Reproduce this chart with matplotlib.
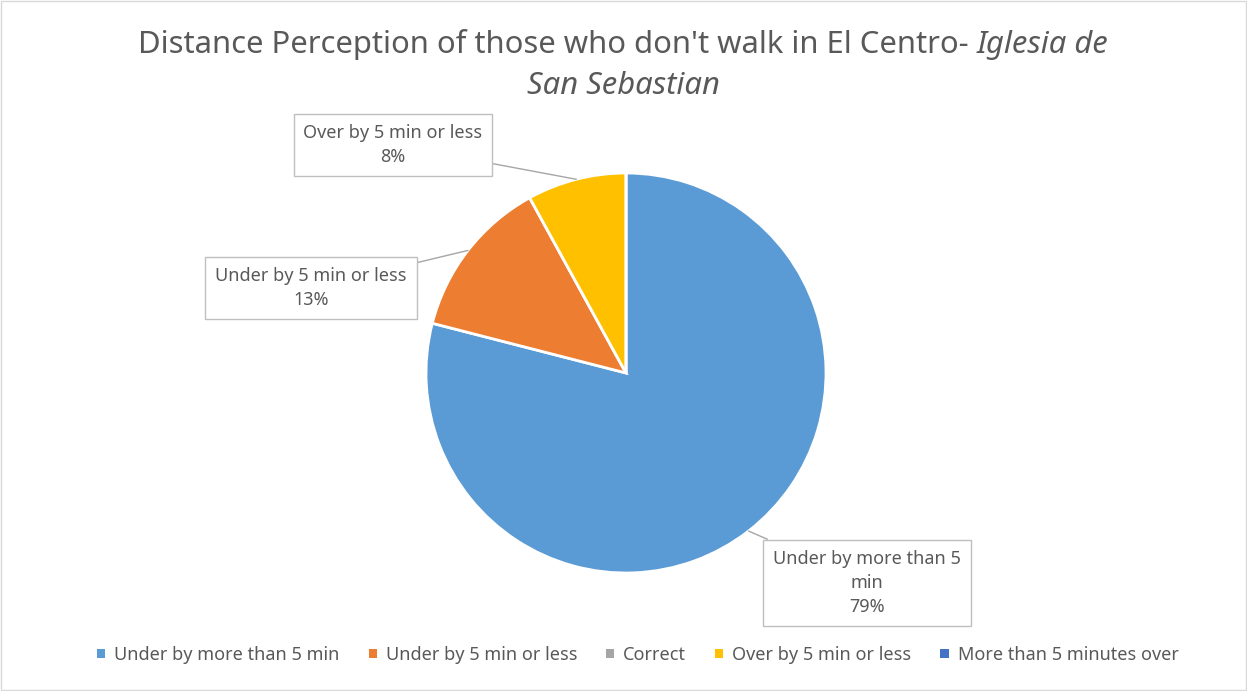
import matplotlib.pyplot as plt
import numpy as np
from matplotlib.patches import Rectangle

categories = ["Under by more than 5 min", "Under by 5 min or less", "Correct",
              "Over by 5 min or less", "More than 5 minutes over"]
shares = [79, 13, 0, 8, 0]
colors = ["#5B9BD5", "#ED7D31", "#A5A5A5", "#FFC000", "#4472C4"]

# label text and where each callout box sits (figure pixels, top-left origin)
label_text = {
    0: "Under by more than 5\nmin\n79%",
    1: "Under by 5 min or less\n13%",
    3: "Over by 5 min or less\n8%",
}
label_pos = {0: (867, 583), 1: (311, 288), 3: (393, 145)}

W, H = 1247, 691
TEXT = "#595959"
plt.rcParams["font.family"] = ["Noto Sans", "DejaVu Sans"]

fig = plt.figure(figsize=(W / 100, H / 100), dpi=100)
fig.patches.append(Rectangle((0.0008, 0.0015), 0.9984, 0.997, transform=fig.transFigure,
                             fill=False, ec="#D9D9D9", lw=1))

# pie axes: centre (626, 373), radius 200 px
cx, cy, r = 626, 373, 200
ax = fig.add_axes([(cx - r) / W, (H - cy - r) / H, 2 * r / W, 2 * r / H])
wedges, _ = ax.pie(shares, colors=colors, startangle=90, counterclock=False, radius=1,
                   wedgeprops=dict(edgecolor="white", linewidth=2))
ax.set_xlim(-1, 1)
ax.set_ylim(-1, 1)
ax.set_aspect("equal")
ax.axis("off")

for i, txt in label_text.items():
    w = wedges[i]
    mid = np.deg2rad((w.theta1 + w.theta2) / 2)
    px, py = np.cos(mid), np.sin(mid)
    bx, by = label_pos[i]
    ax.annotate(txt, xy=(px, py), xycoords="data",
                xytext=(bx / W, 1 - by / H), textcoords="figure fraction",
                ha="center", va="center", fontsize=13, color=TEXT, linespacing=1.45,
                bbox=dict(boxstyle="square,pad=0.55", fc="white", ec="#BFBFBF", lw=1),
                arrowprops=dict(arrowstyle="-", color="#A6A6A6", lw=1,
                                shrinkA=0, shrinkB=0))

# title: regular first part, italic place name
fig.canvas.draw()
renderer = fig.canvas.get_renderer()
t1 = fig.text(0, 1 - 45 / H, "Distance Perception of those who don't walk in El Centro- ",
              fontsize=22.3, color=TEXT, ha="left", va="center")
t2 = fig.text(0, 1 - 45 / H, "Iglesia de", fontsize=22.3, color=TEXT, style="italic",
              ha="left", va="center")
w1 = t1.get_window_extent(renderer).width
w2 = t2.get_window_extent(renderer).width
x0 = (W / 2) - (w1 + w2) / 2
t1.set_x(x0 / W)
t2.set_x((x0 + w1) / W)
fig.text((W / 2) / W, 1 - 86 / H, "San Sebastian", fontsize=22.3, color=TEXT,
         style="italic", ha="center", va="center")

handles = [Rectangle((0, 0), 1, 1, fc=c, ec="none") for c in colors]
fig.legend(handles, categories, loc="center", bbox_to_anchor=(0.5115, 1 - 655 / H), ncol=5,
           frameon=False, fontsize=13, labelcolor=TEXT, handlelength=0.45, handleheight=0.45,
           handletextpad=0.5, columnspacing=1.6)

fig.savefig("out.png", dpi=100)
